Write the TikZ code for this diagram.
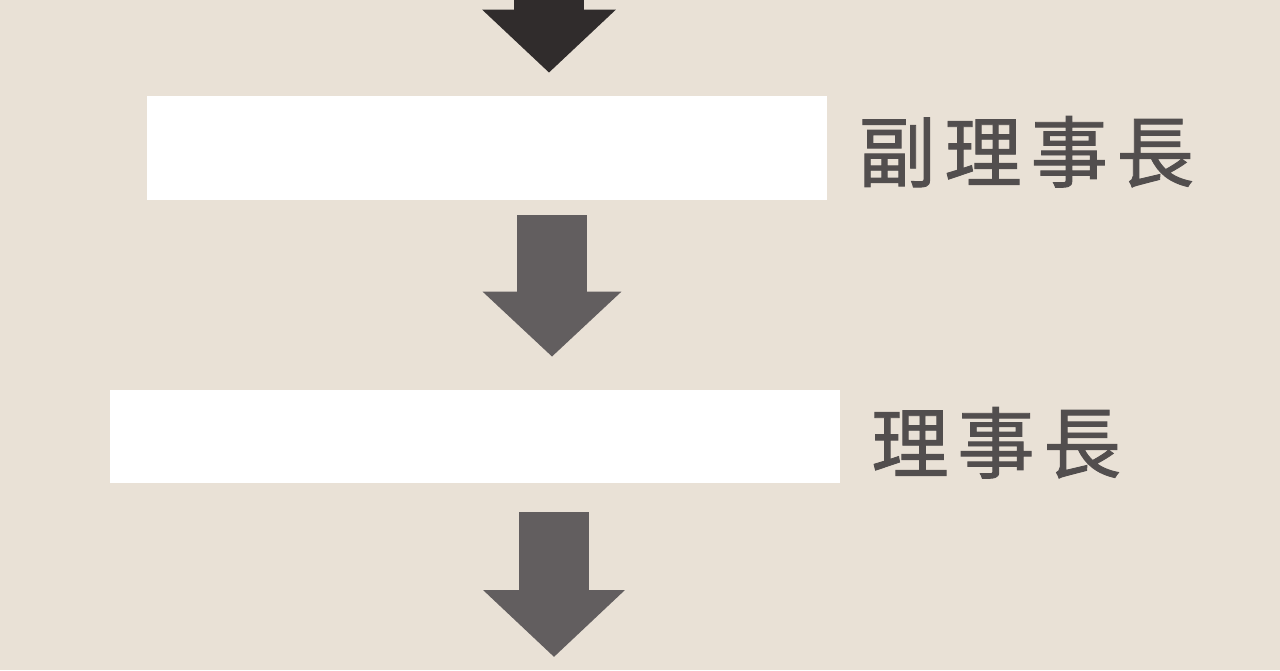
\documentclass[tikz,border=0pt]{standalone}
\usepackage{fontspec}
\newfontfamily\cjk[FakeBold=1.2]{Noto Sans CJK TC}
\usepackage{tikz}
\usetikzlibrary{arrows.meta,positioning,calc}
\definecolor{paper}{RGB}{233,225,214}
\definecolor{inkdark}{RGB}{48,44,44}
\definecolor{inkgray}{RGB}{98,94,95}
\definecolor{labelgray}{RGB}{82,78,78}

\begin{document}
\begin{tikzpicture}[x=0.02cm,y=-0.02cm,
  post/.style={draw=none,fill=white,minimum height=#1*0.02cm,inner sep=0pt},
  downarrow/.style={line width=1.4cm,draw=#1,
    -{Triangle[length=1.3cm,width=2.7cm]}},
  rank/.style={anchor=base west,inner sep=0pt,text=labelgray,
    font=\cjk\fontsize{44}{44}\selectfont}]
  \useasboundingbox (0,0) rectangle (1280,670);
  \fill[paper] (0,0) rectangle (1280,670);
  % boxes
  \node[post=104,minimum width=13.6cm] (vice) at (487,148) {};
  \node[post=93,minimum width=14.6cm] (chair) at (475,436.5) {};
  % labels
  \node[rank] (vicelabel) at (858,181) {副\hskip5pt 理\hskip5pt 事\hskip5pt 長};
  \node[rank] (chairlabel) at (871,472) {理\hskip5pt 事\hskip5pt 長};
  % arrows
  \coordinate (top) at (549,-5);
  \coordinate (mid) at (552,0);
  \coordinate (bottom) at (554,657);
  \draw[downarrow=inkdark,-{Triangle[length=1.26cm,width=2.6cm]}]
    (top) -- ([yshift=0.46cm]top |- vice.north);
  \draw[downarrow=inkgray]
    ([yshift=-0.3cm]mid |- vice.south) -- ([yshift=0.66cm]mid |- chair.north);
  \draw[downarrow=inkgray,-{Triangle[length=1.34cm,width=2.76cm]}]
    ([yshift=-0.58cm]bottom |- chair.south) -- (bottom);
\end{tikzpicture}
\end{document}
